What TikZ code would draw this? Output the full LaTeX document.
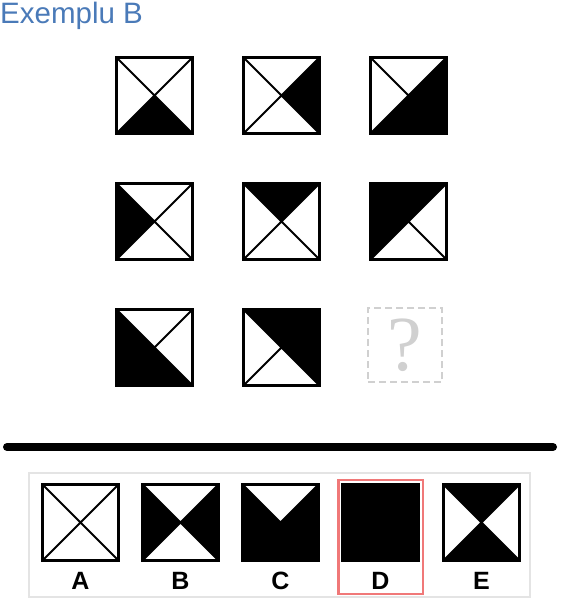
\documentclass[tikz,border=0pt]{standalone}
\usepackage{fontspec}
\setmainfont{Liberation Sans}
\newfontfamily\qfont{Liberation Serif}
\usetikzlibrary{positioning}
\definecolor{titleblue}{RGB}{74,122,184}
\definecolor{answerred}{RGB}{240,120,120}
\definecolor{qgray}{RGB}{208,208,208}
\definecolor{panelgray}{RGB}{228,228,228}
% black triangle of a tile, side given by its angle
\newcommand\blk[2]{%
  \pgfmathtruncatemacro\pa{mod(#2+315,360)}%
  \pgfmathtruncatemacro\pb{#2+45}%
  \fill (#1.center) -- (#1.\pa) -- (#1.\pb) -- cycle;}
\tikzset{
  tile/.style={minimum size=76pt, inner sep=0pt, outer sep=0pt},
  diag/.style={line width=2pt},
  frame/.style={line width=3pt},
  letter/.style={font=\bfseries\fontsize{25}{25}\selectfont, anchor=base, inner sep=0pt},
  answer/.style={draw=answerred, line width=2.5pt}
}
\begin{document}
\begin{tikzpicture}[x=1pt,y=1pt]
    \useasboundingbox (0,0) rectangle (560,600);
    \node[anchor=base west, inner sep=0pt, text=titleblue, font=\fontsize{29.5}{30}\selectfont] (title) at (0,576.5) {Exemplu B};

    \node[tile] (r1c1) at (154.5,504.5) {};
    \node[tile, right=51pt of r1c1] (r1c2) {};
    \node[tile, right=51pt of r1c2] (r1c3) {};
    \node[tile, below=50pt of r1c1] (r2c1) {};
    \node[tile, right=51pt of r2c1] (r2c2) {};
    \node[tile, right=51pt of r2c2] (r2c3) {};
    \node[tile, below=50pt of r2c1] (r3c1) {};
    \node[tile, right=51pt of r3c1] (r3c2) {};
    \node[tile, minimum size=74pt, right=48.5pt of r3c2, yshift=2pt, draw=qgray, line width=2pt,
          dash pattern=on 7pt off 4pt, text=qgray, font=\qfont\fontsize{78}{78}\selectfont] (r3c3) {?};

    \coordinate (rule west) at (7,153);
    \coordinate (rule east) at (553,153);
    \draw[line width=8pt, line cap=round] (rule west) -- (rule east);

    \draw[panelgray, line width=1.5pt] (29,3) rectangle (530,127);
    \node[tile] (optA) at (80.5,77.5) {};
    \node[tile, right=24pt of optA] (optB) {};
    \node[tile, right=24pt of optB] (optC) {};
    \node[tile, right=24pt of optC] (optD) {};
    \node[tile, right=25pt of optD] (optE) {};
    \foreach \o in {A,B,C,D,E}
        \node[letter] (lab\o) at ([yshift=-29.5pt]opt\o.south) {\o};
    \draw[answer] ([shift={(-4pt,4.5pt)}]optD.north west) rectangle ([shift={(4.5pt,-33.5pt)}]optD.south east);

    \blk{r1c1}{270}
    \blk{r1c2}{0}
    \blk{r1c3}{0}\blk{r1c3}{270}
    \blk{r2c1}{180}
    \blk{r2c2}{90}
    \blk{r2c3}{180}\blk{r2c3}{90}
    \blk{r3c1}{180}\blk{r3c1}{270}
    \blk{r3c2}{90}\blk{r3c2}{0}
    \blk{optB}{180}\blk{optB}{0}
    \blk{optC}{180}\blk{optC}{0}\blk{optC}{270}
    \blk{optD}{0}\blk{optD}{90}\blk{optD}{180}\blk{optD}{270}
    \blk{optE}{90}\blk{optE}{270}

    \foreach \t in {r1c1,r1c2,r1c3,r2c1,r2c2,r2c3,r3c1,r3c2,optA,optB,optC,optD,optE} {
        \draw[diag] (\t.north west) -- (\t.south east) (\t.north east) -- (\t.south west);
        \draw[frame] (\t.north west) rectangle (\t.south east);
    }
\end{tikzpicture}
\end{document}
